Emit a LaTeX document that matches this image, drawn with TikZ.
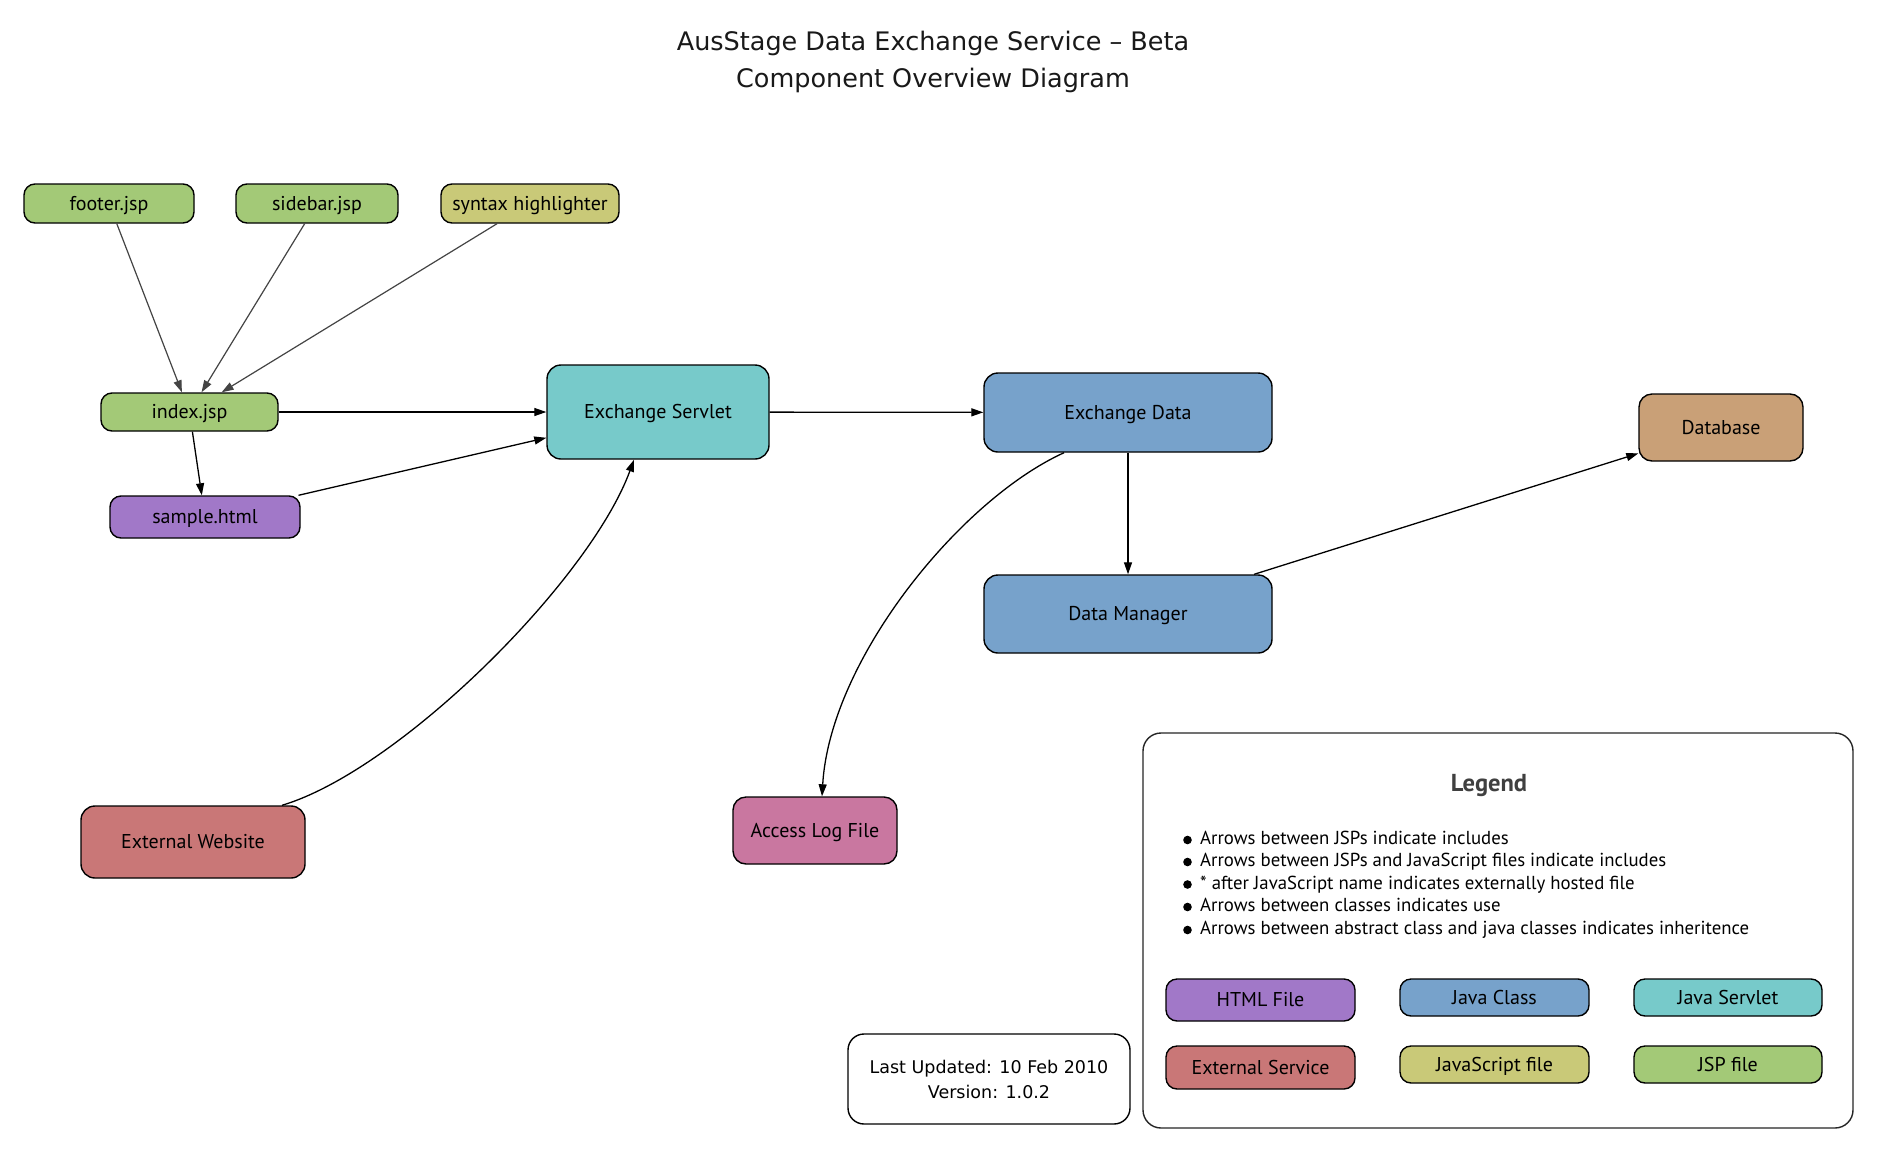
\documentclass[tikz,border=0pt]{standalone}
\usepackage{fontspec}
\setmainfont{PT Sans}
\newfontfamily\mytitlefont{DejaVu Sans}
\usetikzlibrary{arrows.meta,calc}
\definecolor{jspc}{HTML}{A3C977}
\definecolor{jsc}{HTML}{C9C978}
\definecolor{htmlc}{HTML}{A178C8}
\definecolor{javac}{HTML}{77A2CB}
\definecolor{servc}{HTML}{77CACA}
\definecolor{extc}{HTML}{C97777}
\definecolor{logc}{HTML}{C977A0}
\definecolor{dbc}{HTML}{C9A077}
\definecolor{grayarr}{HTML}{444444}
\newcommand\mynodefont{\fontsize{20}{23}\selectfont}
\newcommand\mylegfont{\fontsize{18.8}{22}\selectfont}
\begin{document}
\begin{tikzpicture}[x=1pt,y=-1pt,
  box/.style={draw=black, line width=1.4pt, rounded corners=11pt, inner sep=0pt, font=\mynodefont, text=black, text height=15pt, text depth=2pt},
  arr/.style={draw=black, line width=1.3pt, -{Triangle[length=12pt,width=8pt]}},
  garr/.style={draw=grayarr, line width=1.2pt, -{Triangle[length=12pt,width=8pt]}},
  lgline/.style={anchor=west, inner sep=0pt, font=\mylegfont, text=black, text height=13pt, text depth=4pt}
]
\useasboundingbox (0,0) rectangle (1879,1154);
\fill[white] (0,0) rectangle (1879,1154);

% title
\node[font={\mytitlefont\fontsize{25.5}{37}\selectfont}, align=center, text=black!90] (title) at (933,62)
  {AusStage Data Exchange Service – Beta\\Component Overview Diagram};

% nodes
\node[box, fill=jspc, minimum width=170pt, minimum height=39pt] (footer) at (109,203.5) {footer.jsp};
\node[box, fill=jspc, minimum width=162pt, minimum height=39pt] (sidebar) at (317,203.5) {sidebar.jsp};
\node[box, fill=jsc, minimum width=178pt, minimum height=39pt] (syntax) at (530,203.5) {syntax highlighter};
\node[box, fill=jspc, minimum width=177pt, minimum height=38pt] (index) at (189.5,412) {index.jsp};
\node[box, fill=htmlc, minimum width=190pt, minimum height=42pt] (sample) at (205,517) {sample.html};
\node[box, fill=servc, minimum width=222pt, minimum height=94pt, rounded corners=14pt] (servlet) at (658,412) {Exchange Servlet};
\node[box, fill=javac, minimum width=288pt, minimum height=79pt, rounded corners=14pt] (exdata) at (1128,412.5) {Exchange Data};
\node[box, fill=dbc, minimum width=164pt, minimum height=67pt, rounded corners=13pt] (database) at (1721,427.5) {Database};
\node[box, fill=javac, minimum width=288pt, minimum height=78pt, rounded corners=14pt] (datamgr) at (1128,614) {Data Manager};
\node[box, fill=extc, minimum width=224pt, minimum height=72pt, rounded corners=14pt] (extweb) at (193,842) {External Website};
\node[box, fill=logc, minimum width=164pt, minimum height=67pt, rounded corners=13pt] (accesslog) at (815,830.5) {Access Log File};

% last updated box
\node[draw=black, line width=1.4pt, fill=white, inner sep=0pt, minimum width=282pt, minimum height=90pt, rounded corners=16pt, align=center,
  font={\mytitlefont\fontsize{17.5}{25}\selectfont}] (updated) at (989,1079)
  {Last Updated: 10 Feb 2010\\Version: 1.0.2};

% legend
\node[draw=black!85, line width=1.4pt, rounded corners=18pt, minimum width=710pt, minimum height=395pt, inner sep=0pt] (legend) at (1498,930.5) {};
\node[font={\bfseries\fontsize{24.5}{28}\selectfont}, text=black!75] (legendtitle) at (1489,786) {Legend};
\node[lgline] (l1) at (1200,840) {Arrows between JSPs indicate includes};
\node[lgline] (l2) at (1200,862) {Arrows between JSPs and JavaScript files indicate includes};
\node[lgline] (l3) at (1200,884.5) {* after JavaScript name indicates externally hosted file};
\node[lgline] (l4) at (1200,907) {Arrows between classes indicates use};
\node[lgline] (l5) at (1200,930) {Arrows between abstract class and java classes indicates inheritence};
\foreach \l in {l1,l2,l3,l4,l5}
  \fill[black] ($(\l.west)+(-12.5,0)$) circle (4.3);

\node[box, fill=htmlc, minimum width=189pt, minimum height=42pt] (lhtml) at (1260.5,1000) {HTML File};
\node[box, fill=javac, minimum width=189pt, minimum height=37pt] (ljava) at (1494.5,997.5) {Java Class};
\node[box, fill=servc, minimum width=188pt, minimum height=37pt] (lserv) at (1728,997.5) {Java Servlet};
\node[box, fill=extc, minimum width=189pt, minimum height=43pt] (lext) at (1260.5,1067.5) {External Service};
\node[box, fill=jsc, minimum width=189pt, minimum height=37pt] (ljs) at (1494.5,1064.5) {JavaScript file};
\node[box, fill=jspc, minimum width=188pt, minimum height=37pt] (ljsp) at (1728,1064.5) {JSP file};

% connectors
\draw[garr] (footer) -- (index);
\draw[garr] (sidebar) -- (index);
\draw[garr] (syntax) -- (index);
\draw[arr] (index) -- (servlet);
\draw[arr] (index) -- (sample);
\draw[arr] (sample) -- (servlet);
\draw[arr] ($(extweb.north)+(89,0)$) .. controls (400,770) and (590,580) .. ($(servlet.south)+(-24,0)$);
\draw[arr] (servlet) -- (exdata);
\draw[arr] (exdata) -- (datamgr);
\draw[arr] ($(exdata.south)+(-64,0)$) .. controls (960,500) and (830,660) .. ($(accesslog.north)+(7,0)$);
\draw[arr] (datamgr) -- (database);
\end{tikzpicture}
\end{document}
